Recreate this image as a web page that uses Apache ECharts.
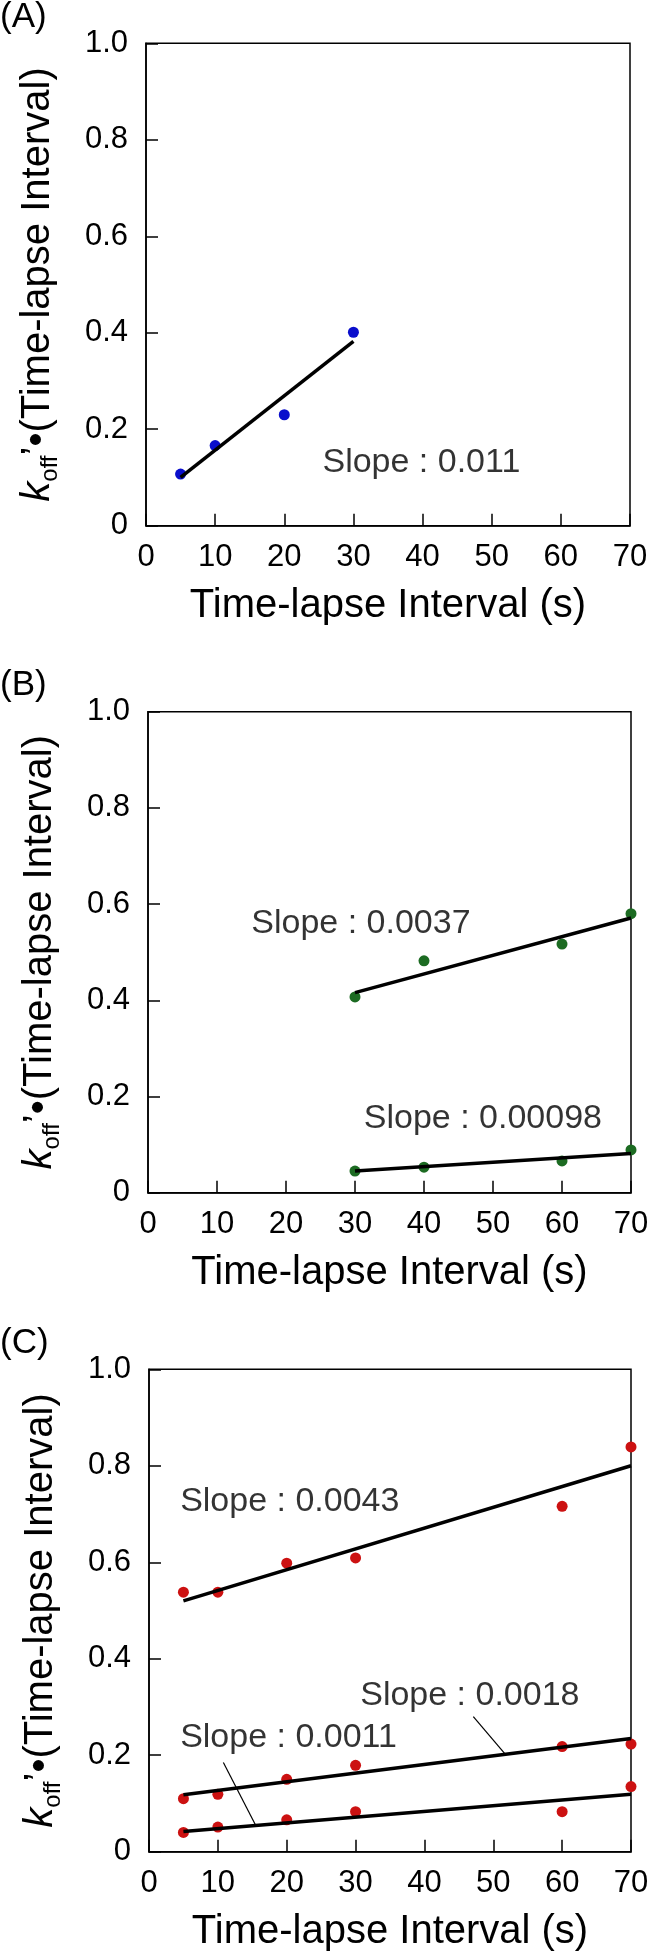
<!DOCTYPE html>
<html><head><meta charset="utf-8">
<script src="https://cdn.jsdelivr.net/npm/echarts@6/dist/echarts.min.js"></script>
<style>html,body{margin:0;padding:0;background:#fff}#c{width:650px;height:1954px}</style>
</head><body><div id="c"></div>
<script>
// ---------- data ----------
const xTickValues = [0, 10, 20, 30, 40, 50, 60, 70];
const yTickValues = [0, 0.2, 0.4, 0.6, 0.8, 1.0];
const panelLabels = ['(A)', '(B)', '(C)'];
const xAxisTitle = 'Time-lapse Interval (s)';

// Panel A
const aX = [5, 10, 20, 30];
const aY = [0.107, 0.166, 0.230, 0.401];
const aFitX = [5, 30];
const aFitY = [0.100, 0.382];

// Panel B
const bX = [30, 40, 60, 70];
const bUpperY = [0.407, 0.482, 0.517, 0.580];
const bLowerY = [0.045, 0.053, 0.066, 0.089];
const bFitX = [30, 70];
const bUpperFitY = [0.416, 0.571];
const bLowerFitY = [0.045, 0.0815];

// Panel C
const cX = [5, 10, 20, 30, 60, 70];
const cUpperY = [0.538, 0.538, 0.598, 0.609, 0.716, 0.839];
const cMiddleY = [0.110, 0.119, 0.150, 0.179, 0.218, 0.223];
const cLowerY = [0.040, 0.051, 0.066, 0.083, 0.083, 0.135];
const cFitX = [5, 70];
const cUpperFitY = [0.520, 0.800];
const cMiddleFitY = [0.118, 0.2345];
const cLowerFitY = [0.042, 0.119];

// slope annotations (text + anchor in data units)
const slopeTextA = ['Slope : 0.011'];
const slopeXA = [25.45];
const slopeYA = [0.130];
const slopeTextB = ['Slope : 0.0037', 'Slope : 0.00098'];
const slopeXB = [14.9, 31.2];
const slopeYB = [0.559, 0.155];
const slopeTextC = ['Slope : 0.0043', 'Slope : 0.0018', 'Slope : 0.0011'];
const slopeXC = [4.45, 30.6, 4.45];
const slopeYC = [0.726, 0.324, 0.236];
// leader lines in panel C (data units)
const leader1X = [47.1, 51.7];
const leader1Y = [0.280, 0.203];
const leader2X = [10.8, 15.45];
const leader2Y = [0.185, 0.056];

// ---------- layout / style ----------
const FONT = "'Liberation Sans', Arial, Helvetica, sans-serif";
const grids = [
  {left: 146, top: 43.3, width: 484, height: 482.4},
  {left: 148, top: 711.7, width: 483, height: 481},
  {left: 149, top: 1369.3, width: 482, height: 482.4}
];
const colA = '#0a0ecc', colB = '#1c6b22', colC = '#cc1111';

function pairs(xs, ys) { return xs.map((x, i) => [x, ys[i]]); }

function scatter(gi, xs, ys, color) {
  return {type: 'scatter', xAxisIndex: gi, yAxisIndex: gi, data: pairs(xs, ys),
    symbol: 'circle', symbolSize: 11, itemStyle: {color: color, opacity: 1},
    clip: false, silent: true, z: 3};
}
function fit(gi, xs, ys, w) {
  return {type: 'line', xAxisIndex: gi, yAxisIndex: gi, data: pairs(xs, ys),
    symbol: 'none', lineStyle: {color: '#000', width: w}, clip: false, silent: true, z: 4};
}
function labels(gi, texts, xs, ys) {
  return {type: 'scatter', xAxisIndex: gi, yAxisIndex: gi,
    data: texts.map((t, i) => ({value: [xs[i], ys[i]], name: t})),
    symbolSize: 1, itemStyle: {color: 'rgba(0,0,0,0)'}, clip: false, silent: true, z: 5,
    label: {show: true, position: 'right', distance: 0, formatter: p => p.name,
      color: '#000', fontSize: 34, fontFamily: FONT, align: 'left', verticalAlign: 'middle'}};
}

const xAxes = grids.map((g, i) => ({
  type: 'value', gridIndex: i, min: 0, max: 70, interval: 10,
  axisLine: {show: true, lineStyle: {color: '#000', width: 1.5}},
  axisTick: {show: true, inside: true, length: 12, lineStyle: {color: '#000', width: 1.5}},
  splitLine: {show: false},
  axisLabel: {show: true, margin: 16, color: '#000', fontSize: 31, fontFamily: FONT,
    showMinLabel: true, showMaxLabel: true,
    formatter: v => String(Math.round(v))},
  name: xAxisTitle, nameLocation: 'middle', nameGap: 60, nameMoveOverlap: false,
  nameTextStyle: {color: '#000', fontSize: 40, fontFamily: FONT}
}));

const yAxes = grids.map((g, i) => ({
  type: 'value', gridIndex: i, min: 0, max: 1, interval: 0.2,
  axisLine: {show: true, lineStyle: {color: '#000', width: 1.5}},
  axisTick: {show: true, inside: true, length: 12, lineStyle: {color: '#000', width: 1.5}},
  splitLine: {show: false},
  axisLabel: {show: true, margin: 18, color: '#000', fontSize: 31, fontFamily: FONT,
    showMinLabel: true, showMaxLabel: true,
    formatter: v => (Math.abs(v) < 1e-9 ? '0' : v.toFixed(1))},
  name: '{k|k}{sub|off}{n|\u2019\u2022(Time-lapse Interval)}',
  nameLocation: 'middle', nameGap: 84, nameMoveOverlap: false,
  nameTextStyle: {color: '#000', fontSize: 40, fontFamily: FONT,
    rich: {
      k: {fontStyle: 'italic', fontSize: 40, lineHeight: 48, fontFamily: FONT, color: '#000'},
      sub: {fontSize: 24, lineHeight: 24, verticalAlign: 'bottom', fontFamily: FONT, color: '#000'},
      n: {fontSize: 40, lineHeight: 48, fontFamily: FONT, color: '#000'}
    }}
}));

const labelBaselines = grids.map(g => g.top - 14.3);
const graphics = panelLabels.map((t, i) => ({
  type: 'text', x: 0, y: labelBaselines[i] - 12.1, silent: true,
  style: {text: t, fill: '#000', font: '35px ' + FONT, verticalAlign: 'middle', align: 'left'}
}));

const option = {
  animation: false,
  backgroundColor: '#fff',
  grid: grids.map(g => Object.assign({show: true, borderColor: '#000', borderWidth: 1.5,
    backgroundColor: 'transparent', containLabel: false, outerBoundsMode: 'none'}, g)),
  xAxis: xAxes,
  yAxis: yAxes,
  graphic: graphics,
  series: [
    fit(0, aFitX, aFitY, 3.5),
    scatter(0, aX, aY, colA),
    labels(0, slopeTextA, slopeXA, slopeYA),

    fit(1, bFitX, bUpperFitY, 3.5),
    fit(1, bFitX, bLowerFitY, 3.5),
    scatter(1, bX, bUpperY, colB),
    scatter(1, bX, bLowerY, colB),
    labels(1, slopeTextB, slopeXB, slopeYB),

    fit(2, cFitX, cUpperFitY, 3.5),
    fit(2, cFitX, cMiddleFitY, 3.5),
    fit(2, cFitX, cLowerFitY, 3.5),
    fit(2, leader1X, leader1Y, 1.2),
    fit(2, leader2X, leader2Y, 1.2),
    scatter(2, cX, cUpperY, colC),
    scatter(2, cX, cMiddleY, colC),
    scatter(2, cX, cLowerY, colC),
    labels(2, slopeTextC, slopeXC, slopeYC)
  ]
};

const chart = echarts.init(document.getElementById('c'), null, {renderer: 'canvas', width: 650, height: 1954});
chart.setOption(option);
</script>
</body></html>
